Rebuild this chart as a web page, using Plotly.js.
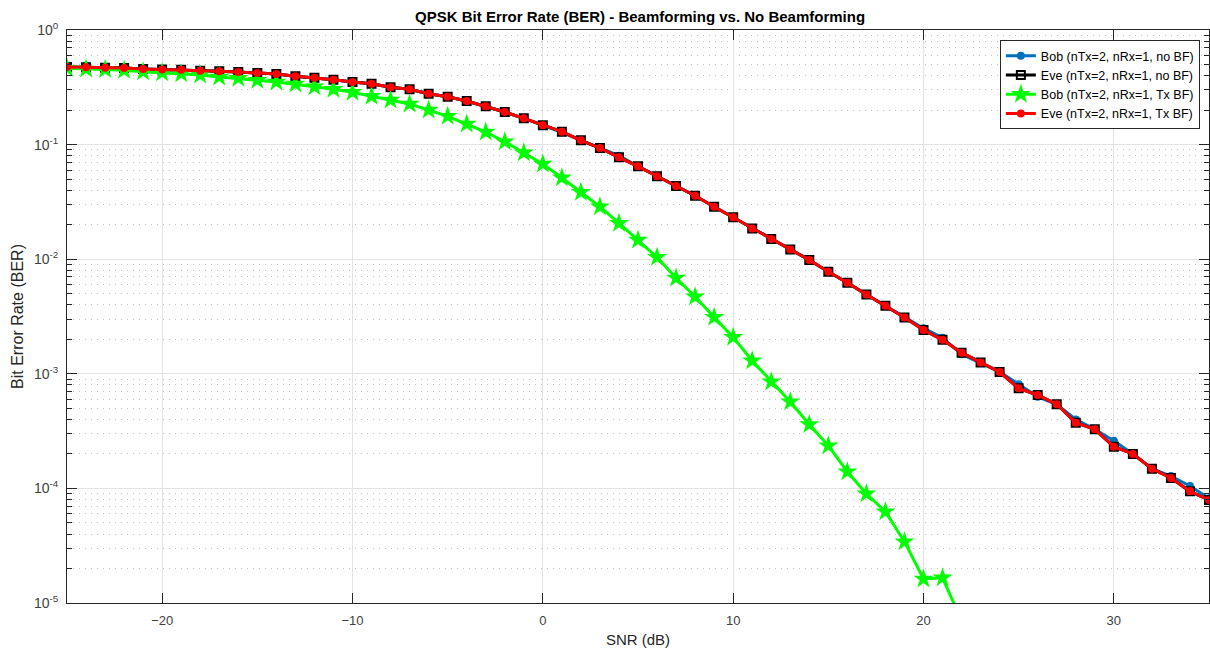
<!DOCTYPE html>
<html>
<head>
<meta charset="utf-8">
<script src="https://cdn.plot.ly/plotly-3.0.1.min.js"></script>
<style>html,body{margin:0;padding:0;background:#fff;}#chart{width:1210px;height:651px;}</style>
</head>
<body>
<div id="chart"></div>
<script>
// SNR axis (dB)
const snr = [-25,-24,-23,-22,-21,-20,-19,-18,-17,-16,-15,-14,-13,-12,-11,-10,-9,-8,-7,-6,-5,-4,-3,-2,-1,0,1,2,3,4,5,6,7,8,9,10,11,12,13,14,15,16,17,18,19,20,21,22,23,24,25,26,27,28,29,30,31,32,33,34,35];

// Bob (nTx=2, nRx=1, no BF)
const bobNoBF = [0.4755,0.474,0.4688,0.466,0.4567,0.452,0.4503,0.4414,0.436,0.430,0.4213,0.413,0.3945,0.3835,0.3684,0.3518,0.340,0.3162,0.3038,0.278,0.2618,0.2401,0.2159,0.1925,0.1696,0.1474,0.128,0.109,0.0934,0.080,0.0646,0.0529,0.0435,0.0358,0.0287,0.0232,0.0185,0.0150,0.01215,0.00984,0.00777,0.00624,0.00491,0.00392,0.00310,0.00250,0.00206,0.00148,0.00124,0.00104,0.00081,0.00063,0.000542,0.00040,0.000328,0.00026,0.000200,0.0001486,0.000128,0.000105,0.000082];

// Eve (nTx=2, nRx=1, no BF)
const eveNoBF = [0.4755,0.474,0.4688,0.466,0.4567,0.452,0.4503,0.4414,0.436,0.430,0.4213,0.413,0.3945,0.3835,0.3684,0.3518,0.340,0.3162,0.3038,0.278,0.2618,0.2401,0.2159,0.1925,0.1696,0.1474,0.1296,0.109,0.0934,0.0775,0.0646,0.0529,0.0435,0.0358,0.0287,0.0232,0.0185,0.0150,0.01215,0.00984,0.00777,0.00624,0.00491,0.00392,0.00310,0.00241,0.00198,0.00153,0.001255,0.001037,0.000747,0.000653,0.000542,0.000374,0.000328,0.000231,0.000200,0.0001486,0.0001232,0.0000943,0.0000792];

// Bob (nTx=2, nRx=1, Tx BF)
const snrBF = [-25,-24,-23,-22,-21,-20,-19,-18,-17,-16,-15,-14,-13,-12,-11,-10,-9,-8,-7,-6,-5,-4,-3,-2,-1,0,1,2,3,4,5,6,7,8,9,10,11,12,13,14,15,16,17,18,19,20,21,22];
const bobBF = [0.463,0.457,0.452,0.4449,0.4326,0.424,0.4156,0.4049,0.389,0.379,0.3641,0.3518,0.338,0.320,0.3038,0.286,0.2639,0.245,0.2261,0.2004,0.1766,0.1512,0.1288,0.106,0.085,0.0677,0.0514,0.0384,0.0287,0.0206,0.0147,0.01039,0.00685,0.00471,0.00311,0.00208,0.00130,0.000853,0.000570,0.000361,0.000236,0.0001398,0.0000897,0.0000626,0.0000343,0.0000162,0.0000166,0.000007];

// Eve (nTx=2, nRx=1, Tx BF)
const eveBF = [0.4755,0.474,0.4688,0.466,0.4567,0.452,0.4503,0.4414,0.436,0.430,0.4213,0.413,0.3945,0.3835,0.3684,0.3518,0.340,0.3162,0.3038,0.278,0.2618,0.2401,0.2159,0.1925,0.1696,0.1474,0.1296,0.109,0.0934,0.0775,0.0646,0.0529,0.0435,0.0358,0.0287,0.0232,0.0185,0.0150,0.01215,0.00984,0.00777,0.00624,0.00491,0.00392,0.00310,0.00241,0.00198,0.00153,0.001255,0.001037,0.000747,0.000653,0.000542,0.000374,0.000328,0.000231,0.000200,0.0001486,0.0001232,0.0000943,0.0000792];

const seriesNames = ['Bob (nTx=2, nRx=1, no BF)','Eve (nTx=2, nRx=1, no BF)','Bob (nTx=2, nRx=1, Tx BF)','Eve (nTx=2, nRx=1, Tx BF)'];

const yTickVals = [1e-5,1e-4,1e-3,1e-2,1e-1,1];
const yTickText = ['10<sup>-5</sup>','10<sup>-4</sup>','10<sup>-3</sup>','10<sup>-2</sup>','10<sup>-1</sup>','10<sup>0</sup>'];

const minorVals = [];
for (let e = -5; e < 0; e++) for (let m = 2; m <= 9; m++) minorVals.push(m * Math.pow(10, e));

const font = '"Liberation Sans", Arial, Helvetica, sans-serif';

const traces = [
  {x: snr, y: bobNoBF, name: seriesNames[0], mode: 'lines+markers',
   line: {color: '#0072BD', width: 3}, marker: {symbol: 'circle', size: 8, color: '#0072BD'}},
  {x: snr, y: eveNoBF, name: seriesNames[1], mode: 'lines+markers',
   line: {color: '#000000', width: 3}, marker: {symbol: 'square-open', size: 8, color: '#000000', line: {width: 2, color: '#000000'}}},
  {x: snrBF, y: bobBF, name: seriesNames[2], mode: 'lines+markers',
   line: {color: '#00FF00', width: 3}, marker: {symbol: 'star', size: 15, color: '#00FF00'}},
  {x: snr, y: eveBF, name: seriesNames[3], mode: 'lines+markers',
   line: {color: '#FF0000', width: 3}, marker: {symbol: 'circle', size: 8, color: '#FF0000'}}
];

const layout = {
  width: 1210, height: 651,
  margin: {l: 67, r: 1, t: 30, b: 48},
  paper_bgcolor: '#ffffff', plot_bgcolor: '#ffffff',
  font: {family: font, size: 12, color: '#404040'},
  title: {text: '<b>QPSK Bit Error Rate (BER) - Beamforming vs. No Beamforming</b>',
          font: {family: font, size: 15, color: '#000000'}, x: 0.529, xanchor: 'center', y: 0.975, yanchor: 'middle'},
  showlegend: true,
  legend: {x: 0.992, xanchor: 'right', y: 0.9825, yanchor: 'top',
           bgcolor: '#ffffff', bordercolor: '#262626', borderwidth: 1,
           font: {family: font, size: 12.5, color: '#000000'}, tracegroupgap: 0},
  xaxis: {
    range: [-25, 35], tick0: 0, dtick: 10, zeroline: false,
    showline: true, linecolor: '#262626', linewidth: 1, mirror: 'ticks',
    ticks: 'inside', ticklen: 10, tickcolor: '#262626', tickwidth: 1,
    showgrid: true, gridcolor: '#e3e3e3', gridwidth: 1,
    tickfont: {family: font, size: 13, color: '#404040'}, ticklabelstandoff: 5,
    title: {text: 'SNR (dB)', font: {family: font, size: 15, color: '#262626'}, standoff: 7}
  },
  yaxis: {
    type: 'log', range: [-5, 0], tickmode: 'array', tickvals: yTickVals, ticktext: yTickText,
    showline: true, linecolor: '#262626', linewidth: 1, mirror: 'ticks',
    ticks: 'inside', ticklen: 10, tickcolor: '#262626', tickwidth: 1,
    showgrid: true, gridcolor: '#e3e3e3', gridwidth: 1,
    tickfont: {family: font, size: 14, color: '#404040'}, ticklabelstandoff: 5,
    minor: {tickmode: 'array', tickvals: minorVals, ticks: 'inside', ticklen: 5, tickcolor: '#262626',
            showgrid: true, gridcolor: '#c2c2c2', griddash: '1px,5px', gridwidth: 1},
    title: {text: 'Bit Error Rate (BER)', font: {family: font, size: 16, color: '#262626'}, standoff: 6}
  }
};

Plotly.newPlot('chart', traces, layout, {displayModeBar: false, staticPlot: true});
</script>
</body>
</html>
